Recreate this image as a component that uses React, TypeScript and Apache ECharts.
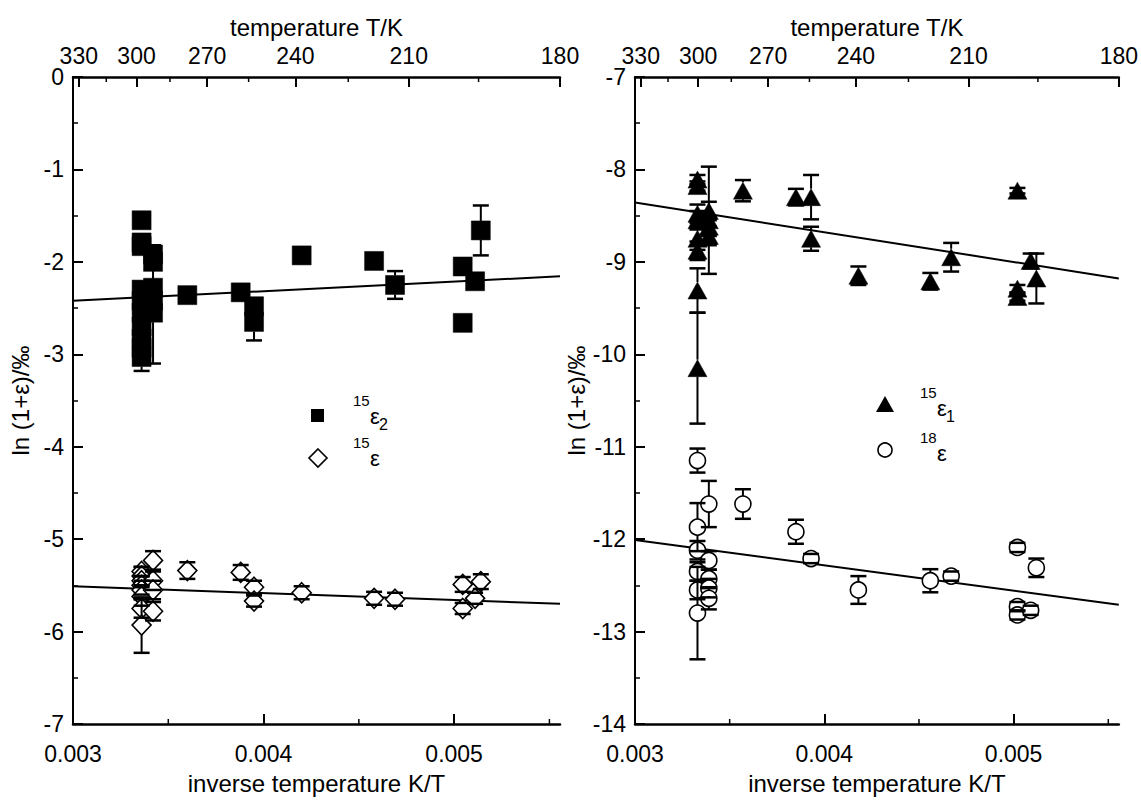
import React, { useEffect, useRef } from "react";
import * as echarts from "echarts";

const FONT = "Arial, 'Liberation Sans', Helvetica, sans-serif";

// axis definitions
const X_MIN = 0.003;
const X_MAX = 1 / 180;
const TEMP_MAJOR = [330, 300, 270, 240, 210, 180];
const TEMP_MINOR = [315, 285, 255, 225, 195];
const INV_MAJOR = [0.003, 0.004, 0.005];
const INV_MINOR = [0.0035, 0.0045, 0.0055];

// [1/T, ln(1+eps) in permil, error]
const eps15_2: number[][] = [
  [0.00336, -1.55, 0], [0.00336, -1.79, 0], [0.00336, -1.83, 0.08], [0.00336, -2.3, 0],
  [0.00336, -2.42, 0], [0.00336, -2.55, 0], [0.00336, -2.7, 0.1], [0.00336, -2.83, 0],
  [0.00336, -2.93, 0.1], [0.00336, -3.03, 0.15],
  [0.00342, -1.92, 0.1], [0.00342, -2.0, 0], [0.00342, -2.28, 0], [0.00342, -2.42, 0],
  [0.00342, -2.55, 0.55],
  [0.0036, -2.36, 0], [0.00388, -2.33, 0], [0.00395, -2.48, 0], [0.00395, -2.65, 0.2],
  [0.0042, -1.93, 0], [0.00458, -1.99, 0], [0.00469, -2.25, 0.15],
  [0.005045, -2.05, 0], [0.005045, -2.66, 0], [0.00511, -2.21, 0], [0.00514, -1.66, 0.27],
];

const eps15: number[][] = [
  [0.00336, -5.35, 0.05], [0.00336, -5.4, 0.1], [0.00336, -5.45, 0.05], [0.00336, -5.5, 0.1],
  [0.00336, -5.55, 0.1], [0.00336, -5.62, 0.1], [0.00336, -5.75, 0.1], [0.00336, -5.93, 0.3],
  [0.00342, -5.23, 0.1], [0.00342, -5.45, 0.1], [0.00342, -5.55, 0.1], [0.00342, -5.78, 0.1],
  [0.0036, -5.34, 0.09], [0.00388, -5.36, 0.08], [0.00395, -5.52, 0.07], [0.00395, -5.67, 0.06],
  [0.0042, -5.58, 0.07], [0.00458, -5.64, 0.07], [0.00469, -5.65, 0.07],
  [0.005045, -5.49, 0.08], [0.005045, -5.75, 0.06], [0.00511, -5.64, 0.06], [0.00514, -5.46, 0.08],
];

const eps15_1: number[][] = [
  [0.00333, -8.11, 0.05], [0.00333, -8.18, 0.05], [0.00333, -8.48, 0.1], [0.00333, -8.55, 0.1],
  [0.00333, -8.75, 0.12], [0.00333, -8.88, 0.1], [0.00333, -9.31, 0.24], [0.00333, -10.15, 0.6],
  [0.00339, -8.55, 0.58], [0.00339, -8.45, 0.1], [0.00339, -8.62, 0.1], [0.00339, -8.72, 0.1],
  [0.00357, -8.23, 0.115], [0.00385, -8.3, 0.09], [0.00393, -8.3, 0.24], [0.00393, -8.75, 0.13],
  [0.00418, -9.15, 0.1], [0.00456, -9.21, 0.09], [0.00467, -8.95, 0.155],
  [0.00502, -8.23, 0.03], [0.00502, -9.29, 0.04], [0.00502, -9.38, 0.04],
  [0.00509, -8.99, 0.08], [0.00512, -9.18, 0.27],
];

const eps18: number[][] = [
  [0.00333, -11.15, 0.13], [0.00333, -11.87, 0.26], [0.00333, -12.12, 0.1], [0.00333, -12.35, 0.1],
  [0.00333, -12.55, 0.1], [0.00333, -12.8, 0.5],
  [0.00339, -11.62, 0.25], [0.00339, -12.23, 0.1], [0.00339, -12.43, 0.1], [0.00339, -12.53, 0.1],
  [0.00339, -12.64, 0.12],
  [0.00357, -11.62, 0.16], [0.00385, -11.92, 0.13], [0.00393, -12.21, 0.05],
  [0.00418, -12.55, 0.15], [0.00456, -12.45, 0.125], [0.00467, -12.4, 0.05],
  [0.00502, -12.09, 0.05], [0.00502, -12.73, 0.05], [0.00502, -12.82, 0.05],
  [0.00509, -12.77, 0.05], [0.00512, -12.31, 0.1],
];

// linear fits: [x, y] end points
const fit15_2 = [[X_MIN, -2.42], [X_MAX, -2.157]];
const fit15 = [[X_MIN, -5.51], [X_MAX, -5.70]];
const fit15_1 = [[X_MIN, -8.357], [X_MAX, -9.18]];
const fit18 = [[X_MIN, -12.01], [X_MAX, -12.71]];

function errorBars(half: number) {
  return (params: any, api: any) => {
    const x = api.value(0);
    const y = api.value(1);
    const e = api.value(2);
    if (!e) return { type: "group", children: [] };
    const c = api.coord([x, y]);
    const t = api.coord([x, y + e]);
    const b = api.coord([x, y - e]);
    const hw = 8;
    const st = { stroke: "#000", lineWidth: 2 };
    const cap = { stroke: "#000", lineWidth: 2.5 };
    const children: any[] = [];
    if (c[1] - t[1] > half)
      children.push({ type: "line", shape: { x1: c[0], y1: c[1] - half, x2: t[0], y2: t[1] }, style: st });
    if (b[1] - c[1] > half)
      children.push({ type: "line", shape: { x1: c[0], y1: c[1] + half, x2: b[0], y2: b[1] }, style: st });
    children.push({ type: "line", shape: { x1: t[0] - hw, y1: t[1], x2: t[0] + hw, y2: t[1] }, style: cap });
    children.push({ type: "line", shape: { x1: b[0] - hw, y1: b[1], x2: b[0] + hw, y2: b[1] }, style: cap });
    return { type: "group", children };
  };
}

function minorTicks(params: any, api: any) {
  const x = api.value(0);
  const side = api.value(1);
  const cs = params.coordSys;
  const px = api.coord([x, api.value(2)])[0];
  const y0 = side === 1 ? cs.y : cs.y + cs.height;
  const y1 = side === 1 ? y0 + 5 : y0 - 5;
  return { type: "line", shape: { x1: px, y1: y0, x2: px, y2: y1 }, style: { stroke: "#000", lineWidth: 1.5 } };
}

const nameStyle = { color: "#000", fontFamily: FONT, fontSize: 24 };
const labelStyle = { color: "#000", fontFamily: FONT, fontSize: 23 };

function bottomAxis(gridIndex: number) {
  return {
    type: "value",
    gridIndex,
    position: "bottom",
    min: X_MIN,
    max: X_MAX,
    name: "inverse temperature K/T",
    nameLocation: "middle",
    nameGap: 47,
    nameTextStyle: nameStyle,
    axisLine: { show: true, onZero: false, lineStyle: { color: "#000", width: 2.5 } },
    axisTick: { show: true, inside: true, length: 10, customValues: INV_MAJOR, lineStyle: { color: "#000", width: 2 } },
    axisLabel: { ...labelStyle, margin: 18, customValues: INV_MAJOR, formatter: (v: number) => v.toFixed(3) },
    splitLine: { show: false },
  };
}

function topAxis(gridIndex: number) {
  const vals = TEMP_MAJOR.map((t) => 1 / t);
  return {
    type: "value",
    gridIndex,
    position: "top",
    min: X_MIN,
    max: X_MAX,
    name: "temperature T/K",
    nameLocation: "middle",
    nameGap: 38,
    nameTextStyle: nameStyle,
    axisLine: { show: true, onZero: false, lineStyle: { color: "#000", width: 2.5 } },
    axisTick: { show: true, inside: true, length: 10, customValues: vals, lineStyle: { color: "#000", width: 2 } },
    axisLabel: { ...labelStyle, margin: 10, customValues: vals, formatter: (v: number) => String(Math.round(1 / v)) },
    splitLine: { show: false },
  };
}

function leftAxis(gridIndex: number, min: number, max: number, gap: number) {
  return {
    type: "value",
    gridIndex,
    min,
    max,
    interval: 1,
    name: "ln (1+ε)/‰",
    nameLocation: "middle",
    nameGap: gap,
    nameRotate: 90,
    nameTextStyle: nameStyle,
    axisLine: { show: true, onZero: false, lineStyle: { color: "#000", width: 2 } },
    axisTick: { show: true, inside: true, length: 10, lineStyle: { color: "#000", width: 2 } },
    minorTick: { show: true, splitNumber: 2, length: 5, lineStyle: { color: "#000", width: 1.5 } },
    axisLabel: { ...labelStyle, margin: 9 },
    splitLine: { show: false },
    minorSplitLine: { show: false },
  };
}

const minorData = (yRef: number) => [
  ...TEMP_MINOR.map((t) => [1 / t, 1, yRef]),
  ...INV_MINOR.map((v) => [v, 0, yRef]),
];

function fitSeries(data: number[][], gi: number) {
  return {
    type: "line",
    xAxisIndex: gi * 2,
    yAxisIndex: gi,
    data,
    symbol: "none",
    lineStyle: { color: "#000", width: 2 },
    z: 1,
    silent: true,
  };
}

function scatter(data: number[][], gi: number, symbol: string, size: any, filled: boolean) {
  return {
    type: "scatter",
    xAxisIndex: gi * 2,
    yAxisIndex: gi,
    data: data.map((d) => [d[0], d[1]]),
    symbol,
    symbolSize: size,
    itemStyle: filled
      ? { color: "#000", borderColor: "#000", borderWidth: 0.5, opacity: 1 }
      : { color: "#fff", borderColor: "#000", borderWidth: 1.6, opacity: 1 },
    z: 2,
  };
}

function errSeries(data: number[][], gi: number, half: number) {
  return {
    type: "custom",
    xAxisIndex: gi * 2,
    yAxisIndex: gi,
    data,
    dimensions: ["x", "y", "e"],
    encode: { x: 0, y: 1 },
    renderItem: errorBars(half),
    z: 3,
    silent: true,
  };
}

function legendText(x: number, y: number, sup: string, sub: string) {
  const els: any[] = [
    { type: "text", x, y: y - 10, style: { text: sup, font: `15px ${FONT}`, fill: "#000", textVerticalAlign: "middle" } },
    { type: "text", x: x + 17, y: y + 6, style: { text: "ε", font: `22px ${FONT}`, fill: "#000", textVerticalAlign: "middle" } },
  ];
  if (sub)
    els.push({ type: "text", x: x + 26, y: y + 14, style: { text: sub, font: `16px ${FONT}`, fill: "#000", textVerticalAlign: "middle" } });
  return els;
}

export default function App() {
  const ref = useRef<HTMLDivElement>(null);
  useEffect(() => {
    if (!ref.current) return;
    const chart = echarts.init(ref.current, undefined, { renderer: "svg" });
    const option: any = {
      animation: false,
      backgroundColor: "#fff",
      textStyle: { fontFamily: FONT },
      grid: [
        { left: 73, top: 77, width: 487, height: 651, containLabel: false },
        { left: 635, top: 77, width: 487, height: 651, containLabel: false },
      ],
      xAxis: [bottomAxis(0), topAxis(0), bottomAxis(1), topAxis(1)],
      yAxis: [leftAxis(0, -7, 0, 41), leftAxis(1, -14, -7, 34)],
      series: [
        fitSeries(fit15_2, 0),
        fitSeries(fit15, 0),
        fitSeries(fit15_1, 1),
        fitSeries(fit18, 1),
        scatter(eps15_2, 0, "rect", 19, true),
        errSeries(eps15_2, 0, 9.5),
        scatter(eps15, 0, "diamond", [19, 20], false),
        errSeries(eps15, 0, 10),
        scatter(eps15_1, 1, "triangle", [19, 17], true),
        errSeries(eps15_1, 1, 8.5),
        scatter(eps18, 1, "circle", 16, false),
        errSeries(eps18, 1, 8),
        {
          type: "custom", xAxisIndex: 0, yAxisIndex: 0, data: minorData(-3),
          encode: { x: 0, y: 2 }, renderItem: minorTicks, silent: true, z: 4,
        },
        {
          type: "custom", xAxisIndex: 2, yAxisIndex: 1, data: minorData(-10),
          encode: { x: 0, y: 2 }, renderItem: minorTicks, silent: true, z: 4,
        },
      ],
      graphic: [
        { type: "rect", shape: { x: 311, y: 409, width: 13, height: 13 }, style: { fill: "#000" } },
        ...legendText(353, 410, "15", "2"),
        { type: "polygon", shape: { points: [[318, 449], [327, 458], [318, 467], [309, 458]] }, style: { fill: "#fff", stroke: "#000", lineWidth: 1.6 } },
        ...legendText(353, 452, "15", ""),
        { type: "polygon", shape: { points: [[885, 396], [894, 412], [876, 412]] }, style: { fill: "#000" } },
        ...legendText(920, 402, "15", "1"),
        { type: "circle", shape: { cx: 885, cy: 450, r: 7 }, style: { fill: "#fff", stroke: "#000", lineWidth: 1.6 } },
        ...legendText(920, 447, "18", ""),
      ],
    };
    chart.setOption(option);
    return () => chart.dispose();
  }, []);
  return <div ref={ref} style={{ width: 1141, height: 800, position: "absolute", left: 0, top: 0 }} />;
}
